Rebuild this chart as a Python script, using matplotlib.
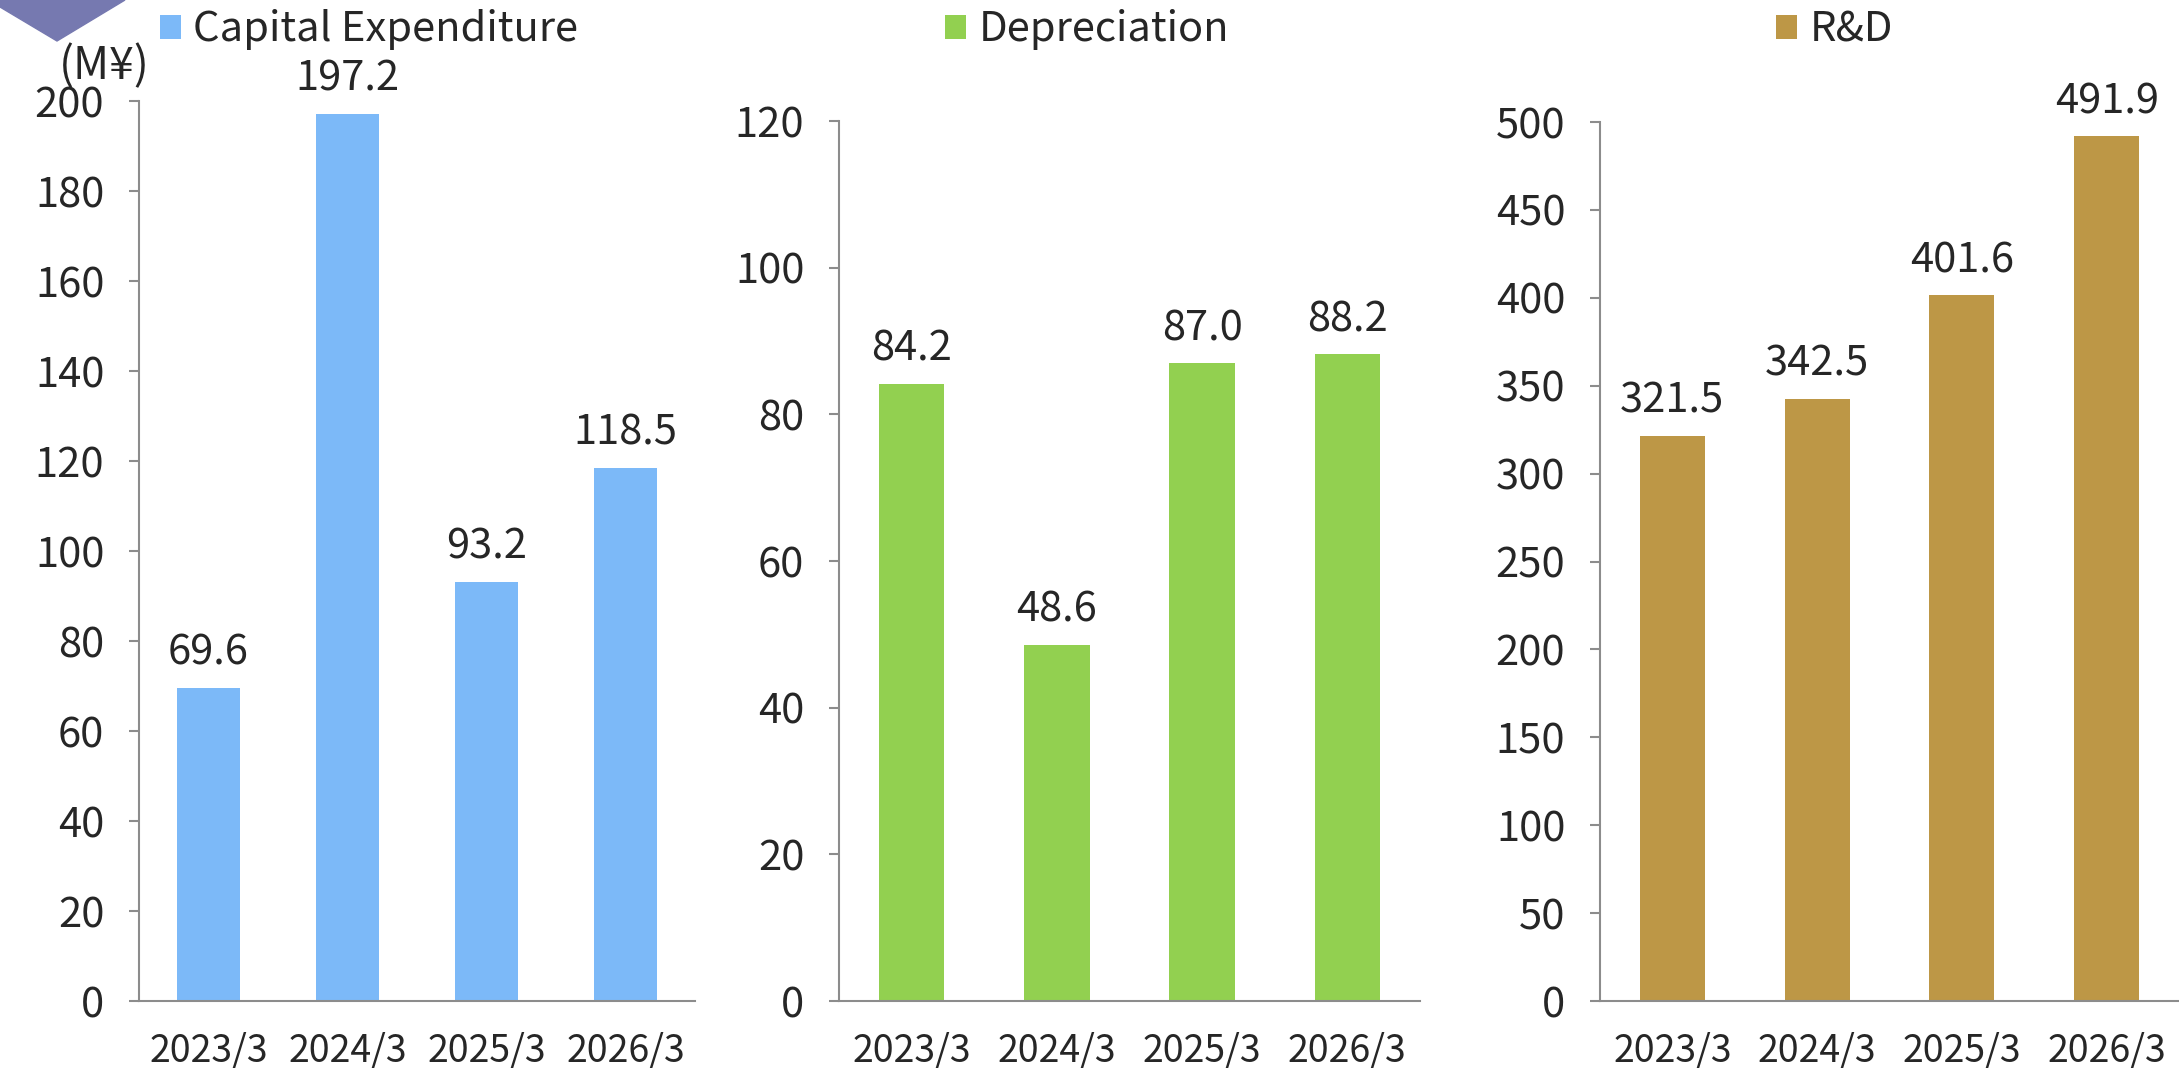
import matplotlib.pyplot as plt
from matplotlib.patches import Polygon

plt.rcParams['font.family'] = ['Noto Sans CJK JP', 'DejaVu Sans']

years = ['2023/3', '2024/3', '2025/3', '2026/3']
capex = [69.6, 197.2, 93.2, 118.5]
depreciation = [84.2, 48.6, 87.0, 88.2]
rnd = [321.5, 342.5, 401.6, 491.9]

names = ['Capital Expenditure', 'Depreciation', 'R&D']
colors = ['#7CB9F8', '#92D050', '#BD9746']
ymax = [200, 120, 500]
ystep = [20, 20, 50]

W, H = 2179, 1068
fig = plt.figure(figsize=(W / 100, H / 100), dpi=100)

# axes boxes in pixels: left, right, top (bottom shared)
boxes = [(139, 695, 101), (839, 1420, 121), (1600, 2179, 122)]
bottom = 1001
txt = '#262626'
grey = '#8C8C8C'

legend_x = [160, 945, 1776]

for i, vals in enumerate([capex, depreciation, rnd]):
    l, r, t = boxes[i]
    ax = fig.add_axes([l / W, 1 - bottom / H, (r - l) / W, (bottom - t) / H])
    bars = ax.bar(range(len(years)), vals, width=0.45, color=colors[i], label=names[i])
    for x, v in enumerate(vals):
        ax.annotate(f'{v:.1f}', (x, v), xytext=(0, 10), textcoords='offset points',
                    ha='center', va='bottom', fontsize=30, color=txt)
    ax.set_xlim(-0.5, 3.5)
    ax.set_ylim(0, ymax[i])
    ax.set_yticks(range(0, ymax[i] + 1, ystep[i]))
    ax.set_xticks(range(len(years)))
    ax.set_xticklabels(years)
    for s in ['top', 'right']:
        ax.spines[s].set_visible(False)
    for s in ['left', 'bottom']:
        ax.spines[s].set_color(grey)
        ax.spines[s].set_linewidth(1.5)
    ax.tick_params(axis='y', colors=grey, labelcolor=txt, labelsize=30,
                   length=7, width=1.5, pad=18)
    ax.tick_params(axis='x', length=0, labelcolor=txt, labelsize=27, pad=22)
    fig.legend(handles=[bars], loc='center left',
               bbox_to_anchor=(legend_x[i] / W, 1 - 30 / H),
               frameon=False, fontsize=30, handlelength=0.5, handleheight=0.5,
               handletextpad=0.3, borderpad=0, borderaxespad=0, labelcolor=txt)

fig.text(150 / W, 1 - 66 / H, '(M¥)', ha='right', va='center', fontsize=32, color=txt)

corner = [(0, 0), (125, 0), (57, 41), (0, 7)]
fig.patches.append(Polygon([(x / W, 1 - y / H) for x, y in corner], closed=True,
                           transform=fig.transFigure, color='#7679B0'))

fig.savefig('out.png', dpi=100)
